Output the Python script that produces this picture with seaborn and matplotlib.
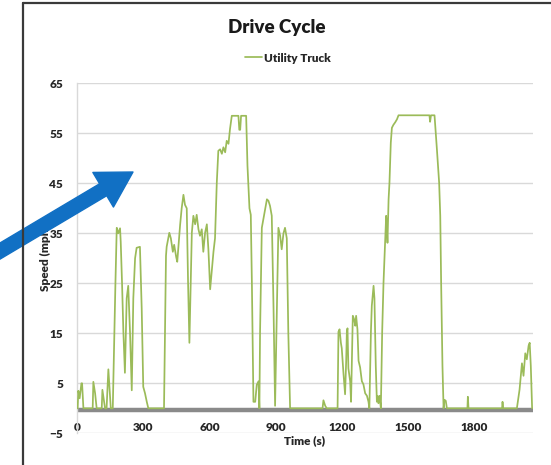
import numpy as np
import matplotlib.pyplot as plt
import seaborn as sns
import pandas as pd

#---drive cycle (time in s, speed in mph)
time_s = [0, 3, 6, 12, 20, 23, 29, 40, 71, 74, 82, 89, 108, 112, 115, 119, 127, 134, 137, 142, 146, 153,
          162, 169, 174, 180, 187, 195, 198, 204, 210, 217, 225, 232, 240, 248, 255, 263,
          270, 285, 293, 300, 308, 316, 323, 394, 403, 406, 418, 425, 434, 440, 449, 454,
          467, 474, 482, 489, 497, 503, 509, 515, 520, 527, 535, 542, 550, 557, 565, 572,
          580, 588, 595, 603, 610, 618, 625, 633, 640, 648, 656, 663, 671, 678, 686, 693,
          701, 731, 735, 739, 743, 746, 766, 772, 781, 787, 792, 799, 807, 814, 822, 826,
          829, 837, 844, 852, 860, 867, 874, 882, 890, 897, 905, 912, 920, 927, 935, 942,
          950, 957, 965, 1112, 1116, 1124, 1131, 1180, 1184, 1189, 1195, 1199, 1207, 1214,
          1219, 1222, 1225, 1229, 1237, 1241, 1249, 1255, 1260, 1264, 1270, 1275, 1282,
          1290, 1297, 1305, 1313, 1320, 1324, 1331, 1335, 1343, 1347, 1353, 1358, 1361,
          1365, 1370, 1376, 1382, 1388, 1396, 1400, 1403, 1406, 1411, 1415, 1421, 1426,
          1433, 1441, 1449, 1456, 1596, 1599, 1603, 1619, 1630, 1640, 1645, 1649, 1655,
          1660, 1664, 1670, 1675, 1768, 1770, 1773, 1925, 1927, 1930, 1992, 2004, 2015,
          2022, 2030, 2037, 2045, 2050, 2055, 2061]
speed_mph = [0, 0, 3.5, 2, 5, 5, 0, 0, 0, 5.3, 3, 0, 0, 0, 3.7, 2.5, 0, 0, 3, 7.8, 5, 0,
             0, 14.5, 25, 36.1, 35, 36, 33.3, 25, 15.3, 7.1, 22, 24.5, 15.3, 3.6, 22, 30,
             32.1, 32.3, 20, 4.3, 3, 1.3, 0, 0, 30.5, 32.3, 35.1, 34, 31.3, 32.7, 30.3, 29.3,
             36.7, 40, 42.7, 40.7, 40, 25, 13.1, 25, 35.1, 38.5, 36.8, 38.7, 35.8, 34.5, 35.8, 31.3,
             35.1, 36.8, 31.8, 23.8, 27.2, 31.3, 34, 45.1, 51.5, 51.8, 50.9, 52.2, 51.2, 53.5, 52.9, 55.9,
             58.5, 58.5, 55.7, 55.7, 58.5, 58.5, 58.5, 48.5, 40, 38.7, 25, 1.3, 1.3, 4.7, 5.4, 0,
             15.3, 36.1, 37.8, 39.8, 41.8, 41.5, 40.5, 38.5, 20, 0.5, 20, 36.1, 34.5, 31.8, 35, 36.1,
             34, 15, 0, 0, 1.6, 0.5, 0, 0, 15.3, 15.8, 13.1, 12, 6.8, 2.8,
             9.5, 15.3, 16, 8, 5.4, 1.3, 18.5, 17.8, 16.5, 18.5, 15.8, 9.5, 8.2,
             5.4, 4.8, 3, 2.5, 1.3, 0, 15.3, 20.5, 24.5, 22, 8.5, 1.3, 2.5,
             1, 2.5, 0, 15.3, 25.1, 33.8, 38.5, 36.5, 33.1, 41.8, 45.1, 53.1, 56.1,
             56.7, 57.2, 57.8, 58.6, 58.6, 57.3, 58.6, 58.6, 51.7, 45.1, 38.5, 25.1, 8.5,
             0, 1.7, 1.5, 0, 0, 2.3, 0, 0, 1.3, 0, 0, 3.7, 9,
             6.5, 11, 9.8, 12.5, 13.1, 8.5, 0]

y_ticks = [-5, 5, 15, 25, 35, 45, 55, 65]
x_ticks = [0, 300, 600, 900, 1200, 1500, 1800]

df = pd.DataFrame({'time': time_s, 'speed': speed_mph})

sns.set_theme(style='white')
plt.rcParams['font.family'] = ['Lato', 'DejaVu Sans']

fig = plt.figure(figsize=(5.51, 4.65), dpi=100)
ax = fig.add_axes([77/551, 1 - 433.3/465, (533 - 77)/551, (433.3 - 83.3)/465])

ax.axhline(-0.35, color='#8a8a8a', lw=3.2, zorder=2)
sns.lineplot(data=df, x='time', y='speed', color='#9BBB59', lw=1.25,
             label='Utility Truck', ax=ax, zorder=3)

ax.set_xlim(0, 2065)
ax.set_ylim(-5, 65)
ax.set_yticks(y_ticks)
ax.set_xticks(x_ticks)
ax.grid(axis='y', color='#d9d9d9', lw=1)
ax.grid(axis='x', visible=False)
for s in ['top', 'right', 'bottom']:
    ax.spines[s].set_visible(False)
ax.spines['left'].set_color('#d9d9d9')
ax.spines['left'].set_linewidth(1)
ax.tick_params(axis='y', length=0, pad=10, labelsize=8.5)
ax.tick_params(axis='x', length=0, pad=-8, labelsize=8.5)
for lab in ax.get_xticklabels() + ax.get_yticklabels():
    lab.set_fontweight('heavy')
    lab.set_color('#262626')
ax.set_xlabel('Time (s)', fontsize=8.5, fontweight='heavy', color='#262626', labelpad=1)
ax.set_ylabel('Speed (mph)', fontsize=8.5, fontweight='heavy', color='#262626', labelpad=-1)

ax.legend_.remove()
h, l = ax.get_legend_handles_labels()
fig.legend(h, l, loc='center', bbox_to_anchor=(288/551, 1 - 58/465), frameon=False,
           handlelength=1.4, handletextpad=0.2,
           prop={'weight': 'heavy', 'size': 8.5})

fig.text(277/551, 1 - 28/465, 'Drive Cycle', ha='center', va='center',
         fontsize=13.5, fontweight='heavy', color='#1a1a1a')

# frame of the screenshot
fig.add_artist(plt.Line2D([23/551, 23/551], [0, 1 - 3/465], transform=fig.transFigure,
                          color='#3a3a3a', lw=1.6))
fig.add_artist(plt.Line2D([23/551, 1], [1 - 3/465, 1 - 3/465], transform=fig.transFigure,
                          color='#3a3a3a', lw=1.6))

# blue pointer arrow
ax.annotate('', xy=(133, 293), xytext=(-10, 208), xycoords='figure pixels',
            textcoords='figure pixels', annotation_clip=False,
            arrowprops=dict(arrowstyle='simple,head_length=1.25,head_width=1.45,tail_width=0.5',
                            color='#1170C4', mutation_scale=20, shrinkA=0, shrinkB=0),
            zorder=10)

fig.savefig('out.png', dpi=100)
